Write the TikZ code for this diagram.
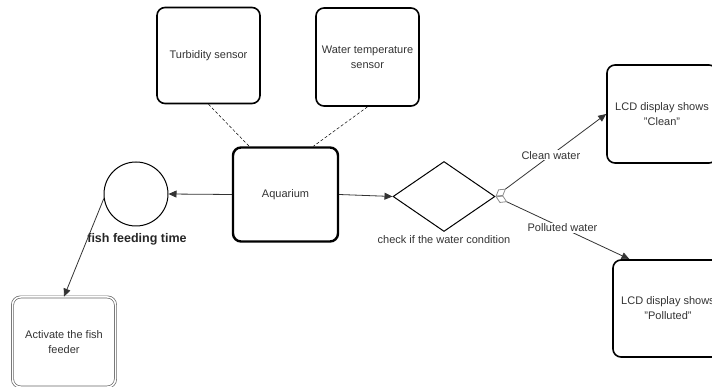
\documentclass[tikz,border=0pt]{standalone}
\usepackage{fontspec}
\setmainfont{Liberation Sans}
\usetikzlibrary{arrows.meta,shapes.geometric}

\begin{document}
\begin{tikzpicture}[x=1pt,y=-1pt,
	every node/.style={font=\fontsize{11}{15}\selectfont, text=black!80},
	task/.style={draw=black, line width=1.6pt, rounded corners=8pt, minimum width=103pt, minimum height=96pt, align=center, inner sep=2pt},
	flow/.style={draw=black!80, line width=0.8pt, -{Triangle[length=8pt,width=7pt]}},
	link/.style={draw=black, densely dashed, line width=0.5pt},
	cond/.style={flow, {Diamond[open,length=13pt,width=8pt,color=black!45]}-{Triangle[length=8pt,width=7pt]}},
	tag/.style={fill=white, inner sep=1pt}]

			\useasboundingbox (0,0) rectangle (712,387);

			% Sensors
			\node[task] (turb) at (208.5,55.5) {Turbidity sensor};
			\node[task, minimum height=98pt] (temp) at (367.5,57) {Water temperature\\sensor};

			% Aquarium
			\node[task, line width=2.4pt, minimum width=105pt, minimum height=94pt] (aqua) at (285.5,194.5) {Aquarium};

			% Feeding branch
			\node[circle, draw=black, line width=1pt, minimum size=64pt] (feed) at (136,194) {};
			\node[font=\fontsize{12.5}{15}\selectfont\bfseries, text=black!85] (feedlbl) at (137,239) {fish feeding time};
			\node[task, draw=black!60, line width=0.7pt, double, double distance=1.5pt, minimum height=90pt] (feeder) at (64,342) {Activate the fish\\feeder};

			% Water check
			\node[diamond, draw, line width=1pt, minimum width=102pt, minimum height=70pt, inner sep=0pt] (check) at (444,196.5) {};
			\node (checklbl) at (444,240) {check if the water condition};

			% Displays
			\node[task, minimum width=110pt, minimum height=98pt] (clean) at (662,114) {LCD display shows\\"Clean"};
			\node[task, minimum width=110pt, minimum height=97pt] (poll) at (668,308.5) {LCD display shows\\"Polluted"};

			% Connectors
			\draw[link] (turb.south) -- (aqua.127);
			\draw[link] (temp.south) -- (aqua.60);
			\draw[flow] (aqua.west) -- (feed.east);
			\draw[flow] (feed.188) -- (feeder.north);
			\draw[flow] (aqua.east) -- (check.west);
			\draw[cond] (check.east) -- node[tag] {Clean water} (clean.west);
			\draw[cond] (check.east) -- node[tag, pos=0.5] {Polluted water} (poll.128);

		\end{tikzpicture}
\end{document}
